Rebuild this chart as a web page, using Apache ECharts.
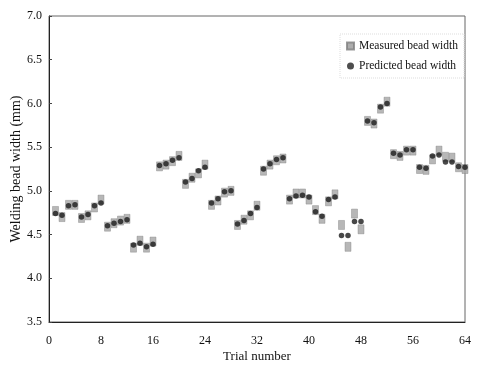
<!DOCTYPE html>
<html>
<head>
<meta charset="utf-8">
<script src="https://cdn.jsdelivr.net/npm/echarts@6/dist/echarts.min.js"></script>
<style>html,body{margin:0;padding:0;background:#fff}#c{width:480px;height:368px}</style>
</head>
<body>
<div id="c"></div>
<script>
var trials = [];
for (var i = 1; i <= 64; i++) trials.push(i);
var xTicks = [0, 8, 16, 24, 32, 40, 48, 56, 64];
var yTicks = [3.5, 4.0, 4.5, 5.0, 5.5, 6.0, 6.5, 7.0];
var measured = [4.77, 4.70, 4.84, 4.84, 4.69, 4.72, 4.81, 4.90, 4.59, 4.63, 4.66, 4.68,
  4.35, 4.43, 4.35, 4.42, 5.28, 5.30, 5.34, 5.40, 5.08, 5.15, 5.20, 5.30,
  4.84, 4.89, 4.98, 5.00, 4.61, 4.67, 4.72, 4.83, 5.23, 5.30, 5.35, 5.37,
  4.90, 4.97, 4.97, 4.90, 4.78, 4.68, 4.88, 4.96, 4.61, 4.36, 4.74, 4.56,
  5.80, 5.77, 5.94, 6.02, 5.42, 5.40, 5.46, 5.46, 5.25, 5.24, 5.36, 5.46, 5.39, 5.38, 5.27, 5.25];
var predicted = [4.74, 4.72, 4.83, 4.84, 4.70, 4.73, 4.83, 4.86, 4.60, 4.63, 4.65, 4.67,
  4.38, 4.40, 4.36, 4.39, 5.29, 5.31, 5.35, 5.38, 5.10, 5.14, 5.23, 5.27,
  4.86, 4.91, 4.99, 5.00, 4.62, 4.66, 4.74, 4.81, 5.25, 5.31, 5.36, 5.38,
  4.91, 4.94, 4.95, 4.93, 4.76, 4.71, 4.90, 4.93, 4.49, 4.49, 4.65, 4.65,
  5.80, 5.78, 5.96, 6.00, 5.43, 5.41, 5.47, 5.47, 5.27, 5.26, 5.40, 5.41, 5.33, 5.33, 5.28, 5.27];

function pairs(vals) { return trials.map(function (t, i) { return [t, vals[i]]; }); }

var font = '"Liberation Serif", "Times New Roman", serif';
var chart = echarts.init(document.getElementById('c'), null, { renderer: 'canvas' });
chart.setOption({
  animation: false,
  backgroundColor: '#fff',
  grid: { left: 49, right: 15, top: 16, bottom: 46, show: true, borderColor: '#666', borderWidth: 1,
    containLabel: false, outerBoundsMode: 'none' },
  legend: {
    right: 16, top: 34, orient: 'vertical', itemGap: 8,
    itemWidth: 7, itemHeight: 7,
    borderColor: '#ddd', borderWidth: 1, borderType: 'dotted', padding: [6, 6, 6, 6],
    textStyle: { fontFamily: font, fontSize: 11.5, color: '#111' },
    data: [
      { name: 'Measured bead width', icon: 'rect', itemStyle: { color: '#999' } },
      { name: 'Predicted bead width', icon: 'circle', itemStyle: { color: '#222' } }
    ]
  },
  xAxis: {
    type: 'value', min: 0, max: 64, interval: 8,
    name: 'Trial number', nameLocation: 'middle', nameGap: 28, nameMoveOverlap: false,
    nameTextStyle: { fontFamily: font, fontSize: 13, color: '#111' },
    axisLine: { lineStyle: { color: '#222' } },
    axisTick: { show: false },
    splitLine: { show: false },
    axisLabel: { fontFamily: font, fontSize: 12, color: '#111', margin: 13 }
  },
  yAxis: {
    type: 'value', min: 3.5, max: 7.0, interval: 0.5,
    name: 'Welding bead width (mm)', nameLocation: 'middle', nameGap: 26, nameMoveOverlap: false,
    nameTextStyle: { fontFamily: font, fontSize: 14, color: '#111' },
    axisLine: { show: true, lineStyle: { color: '#222' } },
    axisTick: { show: true, inside: true, length: 3, lineStyle: { color: '#444' } },
    splitLine: { show: false },
    axisLabel: { fontFamily: font, fontSize: 12, color: '#111', margin: 7,
      formatter: function (v) { return v.toFixed(1); } }
  },
  series: [
    { name: 'Measured bead width', type: 'scatter', symbol: 'rect', symbolSize: [6, 9],
      itemStyle: { color: '#a5a5a5', borderColor: '#808080', borderWidth: 0.5 },
      data: pairs(measured), z: 2 },
    { name: 'Predicted bead width', type: 'scatter', symbol: 'circle', symbolSize: 5.5,
      itemStyle: { color: '#1a1a1a' },
      data: pairs(predicted), z: 3 }
  ]
});
</script>
</body>
</html>
